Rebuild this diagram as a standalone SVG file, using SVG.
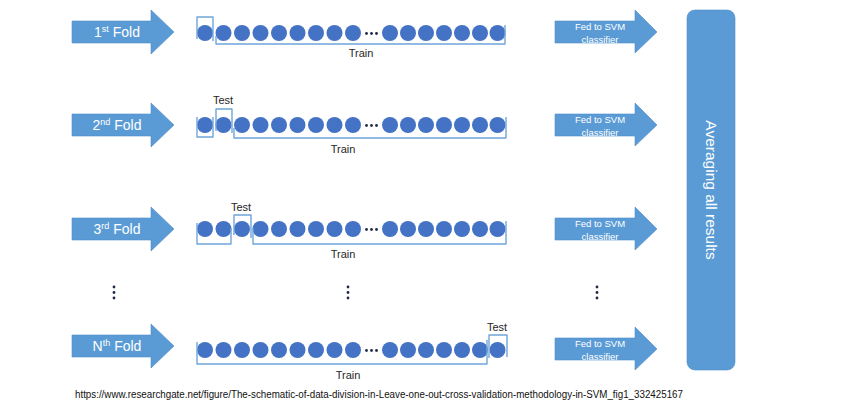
<svg xmlns="http://www.w3.org/2000/svg" xmlns:xlink="http://www.w3.org/1999/xlink" width="852" height="408" viewBox="0 0 852 408">
<style>
.arrow{fill:#5b9bd5;stroke:#4f8dca;stroke-width:0.6}
.dot{fill:#4472c4}
.el{fill:#1f2a44}
.br{fill:none;stroke:#6fa5db;stroke-width:1.4;stroke-linejoin:round}
.fold{font-family:"Liberation Sans",Arial,sans-serif;font-size:14px;fill:#ffffff;text-anchor:middle}
.fed{font-family:"Liberation Sans",Arial,sans-serif;font-size:9.5px;fill:#ffffff;text-anchor:middle}
.lbl{font-family:"Liberation Sans",Arial,sans-serif;font-size:11px;fill:#262626;text-anchor:middle}
.url{font-family:"Liberation Sans",Arial,sans-serif;font-size:10px;fill:#111111}
.avg{font-family:"Liberation Sans",Arial,sans-serif;font-size:15.5px;fill:#ffffff;text-anchor:middle}
</style>
<defs>
<path id="foldArrow" class="arrow" d="M72,-11 H151 V-22 L174,0 L151,22 V11 H72 Z"/>
<path id="fedArrow" class="arrow" d="M555,-11 H635 V-22 L657,0 L635,21 V11 H555 Z"/>
<g id="dots">
<circle class="dot" cx="205" cy="0" r="8"/>
<circle class="dot" cx="223.5" cy="0" r="8"/>
<circle class="dot" cx="242" cy="0" r="8"/>
<circle class="dot" cx="260.5" cy="0" r="8"/>
<circle class="dot" cx="279" cy="0" r="8"/>
<circle class="dot" cx="297.5" cy="0" r="8"/>
<circle class="dot" cx="316" cy="0" r="8"/>
<circle class="dot" cx="334.5" cy="0" r="8"/>
<circle class="dot" cx="353" cy="0" r="8"/>
<circle class="el" cx="366.5" cy="0.5" r="1.4"/>
<circle class="el" cx="371.5" cy="0.5" r="1.4"/>
<circle class="el" cx="376.5" cy="0.5" r="1.4"/>
<circle class="dot" cx="390" cy="0" r="8"/>
<circle class="dot" cx="408" cy="0" r="8"/>
<circle class="dot" cx="426" cy="0" r="8"/>
<circle class="dot" cx="444" cy="0" r="8"/>
<circle class="dot" cx="462" cy="0" r="8"/>
<circle class="dot" cx="480" cy="0" r="8"/>
<circle class="dot" cx="497.5" cy="0" r="8"/>
</g>
<g id="vdots">
<circle class="el" cx="0" cy="-5.5" r="1.4"/>
<circle class="el" cx="0" cy="0" r="1.4"/>
<circle class="el" cx="0" cy="5.5" r="1.4"/>
</g>
</defs>

<g id="fold1">
<use xlink:href="#foldArrow" transform="translate(0,32)"/>
<text class="fold" x="117" y="37">1<tspan font-size="9" dy="-5">st</tspan><tspan dy="5"> Fold</tspan></text>
</g>
<g id="fold2">
<use xlink:href="#foldArrow" transform="translate(0,125)"/>
<text class="fold" x="117" y="130">2<tspan font-size="9" dy="-5">nd</tspan><tspan dy="5"> Fold</tspan></text>
</g>
<g id="fold3">
<use xlink:href="#foldArrow" transform="translate(0,229)"/>
<text class="fold" x="117" y="234">3<tspan font-size="9" dy="-5">rd</tspan><tspan dy="5"> Fold</tspan></text>
</g>
<g id="foldN">
<use xlink:href="#foldArrow" transform="translate(0,346)"/>
<text class="fold" x="117" y="351">N<tspan font-size="9" dy="-5">th</tspan><tspan dy="5"> Fold</tspan></text>
</g>

<g id="data1">
<use xlink:href="#dots" transform="translate(0,33)"/>
<text class="lbl" x="361" y="57">Train</text>
</g>
<g id="data2">
<use xlink:href="#dots" transform="translate(0,125)"/>
<text class="lbl" x="223" y="104">Test</text>
<text class="lbl" x="343" y="153">Train</text>
</g>
<g id="data3">
<use xlink:href="#dots" transform="translate(0,229)"/>
<text class="lbl" x="241" y="211">Test</text>
<text class="lbl" x="343" y="258">Train</text>
</g>
<g id="dataN">
<use xlink:href="#dots" transform="translate(0,350)"/>
<text class="lbl" x="497" y="331">Test</text>
<text class="lbl" x="348" y="379">Train</text>
</g>

<g id="connectors">
<path class="br" d="M197,39 V17 H213 V41"/>
<path class="br" d="M216,36 V44 H505 V25"/>
<path class="br" d="M197,117 V137 H213 V117"/>
<path class="br" d="M216,131 V109 H232 V133"/>
<path class="br" d="M234,128 V138 H506 V117"/>
<path class="br" d="M197,223 V244 H231 V228"/>
<path class="br" d="M234,235 V215 H251 V238"/>
<path class="br" d="M253,228 V244 H506 V221"/>
<path class="br" d="M197,342 V364 H487 V340"/>
<path class="br" d="M489,358 V335 H507 V357"/>
</g>

<g id="fed1">
<use xlink:href="#fedArrow" transform="translate(0,32)"/>
<text class="fed" x="600" y="29.5">Fed to SVM</text>
<text class="fed" x="600" y="42.5">classifier</text>
</g>
<g id="fed2">
<use xlink:href="#fedArrow" transform="translate(0,125)"/>
<text class="fed" x="600" y="122.5">Fed to SVM</text>
<text class="fed" x="600" y="135.5">classifier</text>
</g>
<g id="fed3">
<use xlink:href="#fedArrow" transform="translate(0,229)"/>
<text class="fed" x="600" y="226.5">Fed to SVM</text>
<text class="fed" x="600" y="239.5">classifier</text>
</g>
<g id="fedN">
<use xlink:href="#fedArrow" transform="translate(0,349)"/>
<text class="fed" x="600" y="346.5">Fed to SVM</text>
<text class="fed" x="600" y="359.5">classifier</text>
</g>

<g id="ellipsis">
<use xlink:href="#vdots" transform="translate(114,292.5)"/>
<use xlink:href="#vdots" transform="translate(348,292.5)"/>
<use xlink:href="#vdots" transform="translate(597,292.5)"/>
</g>

<g id="average">
<rect x="687" y="10" width="48" height="360" rx="8" ry="8" fill="#5b9bd5" stroke="#4f8dca" stroke-width="0.6"/>
<text class="avg" transform="translate(705.5,190) rotate(90)" x="0" y="0">Averaging all results</text>
</g>

<g id="source">
<text class="url" x="75" y="397.5" textLength="608" lengthAdjust="spacingAndGlyphs">https://www.researchgate.net/figure/The-schematic-of-data-division-in-Leave-one-out-cross-validation-methodology-in-SVM_fig1_332425167</text>
</g>
</svg>
